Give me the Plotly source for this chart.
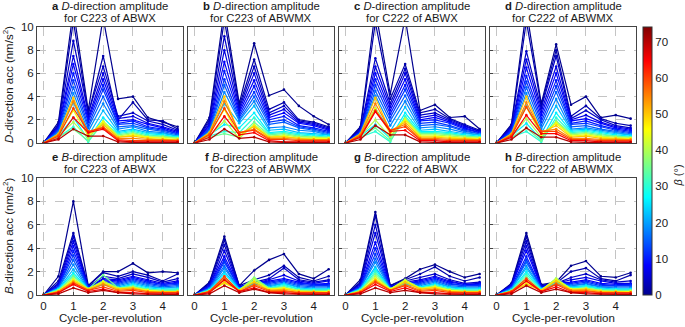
import plotly.graph_objects as go
from plotly.colors import sample_colorscale

# ---------------- data ----------------
X_CPR = [0, 0.5, 1, 1.5, 2, 2.5, 3, 3.5, 4, 4.5]
BETA = [0, 2, 4, 6, 8, 10, 12, 15, 18, 22, 26, 30, 35, 40, 45, 50, 55, 60, 65, 70]
X_TICKS = [0, 1, 2, 3, 4]
Y_TICKS = [0, 2, 4, 6, 8, 10]
CBAR_TICKS = [0, 10, 20, 30, 40, 50, 60, 70]

D_C223_ABWX = [
    [0, 1.8, 11.5, 2.8, 10.8, 3.8, 4.0, 2.2, 1.8, 1.4],
    [0, 1.6, 10.5, 2.5, 7.5, 2.0, 3.5, 2.0, 1.9, 1.2],
    [0, 1.5, 8.8, 2.6, 6.6, 2.3, 2.6, 1.9, 1.6, 1.1],
    [0, 1.4, 7.5, 2.2, 6.0, 2.1, 2.3, 1.7, 1.4, 1.0],
    [0, 1.3, 6.8, 2.0, 5.5, 1.9, 2.0, 1.6, 1.3, 0.9],
    [0, 1.2, 6.0, 1.8, 5.0, 1.7, 1.9, 1.4, 1.2, 0.8],
    [0, 1.1, 5.4, 1.5, 4.6, 1.6, 1.7, 1.3, 1.1, 0.8],
    [0, 1.0, 4.8, 1.3, 4.0, 1.4, 1.5, 1.2, 1.0, 0.7],
    [0, 0.9, 4.3, 1.0, 3.4, 1.2, 1.4, 1.0, 0.9, 0.6],
    [0, 0.8, 3.5, 0.6, 2.8, 1.0, 1.2, 0.9, 0.8, 0.6],
    [0, 0.6, 2.2, 0.3, 2.2, 0.9, 1.1, 0.8, 0.7, 0.5],
    [0, 0.5, 1.4, 0.1, 1.8, 0.8, 1.0, 0.7, 0.6, 0.5],
    [0, 0.5, 1.2, 0.2, 1.7, 0.7, 0.9, 0.6, 0.6, 0.4],
    [0, 0.6, 1.8, 0.4, 1.9, 0.6, 0.8, 0.5, 0.5, 0.4],
    [0, 0.7, 2.8, 0.6, 1.8, 0.5, 0.7, 0.5, 0.4, 0.3],
    [0, 0.8, 3.9, 0.8, 1.6, 0.5, 0.6, 0.4, 0.3, 0.3],
    [0, 0.7, 3.6, 0.9, 1.4, 0.4, 0.4, 0.3, 0.3, 0.2],
    [0, 0.6, 3.0, 1.0, 1.3, 0.3, 0.2, 0.2, 0.2, 0.2],
    [0, 0.4, 2.2, 0.9, 1.2, 0.2, 0.1, 0.1, 0.1, 0.1],
    [0, 0.3, 1.2, 0.6, 0.6, 0.1, 0.05, 0.05, 0.05, 0.05],
]

D_C223_ABWMX = [
    [0, 2.2, 11.5, 3.4, 8.6, 4.1, 4.6, 3.2, 2.3, 1.6],
    [0, 2.0, 10.6, 3.2, 7.2, 2.9, 3.5, 2.0, 1.8, 1.4],
    [0, 1.8, 9.2, 3.0, 6.6, 2.6, 3.2, 1.9, 1.7, 1.3],
    [0, 1.6, 8.0, 2.8, 6.0, 2.4, 2.9, 1.8, 1.6, 1.2],
    [0, 1.5, 7.0, 2.6, 5.4, 2.2, 2.6, 1.7, 1.5, 1.1],
    [0, 1.3, 6.2, 2.4, 4.9, 2.0, 2.3, 1.5, 1.3, 1.0],
    [0, 1.2, 5.5, 2.2, 4.4, 1.8, 2.0, 1.4, 1.2, 0.9],
    [0, 1.1, 5.0, 2.0, 4.0, 1.6, 1.8, 1.3, 1.1, 0.8],
    [0, 1.0, 4.4, 1.9, 3.6, 1.3, 1.4, 1.1, 1.0, 0.7],
    [0, 0.9, 3.4, 1.7, 3.2, 1.1, 1.2, 0.9, 0.8, 0.7],
    [0, 0.7, 1.6, 1.3, 2.6, 0.9, 1.0, 0.8, 0.7, 0.6],
    [0, 0.6, 1.0, 0.9, 2.2, 0.8, 0.9, 0.7, 0.6, 0.5],
    [0, 0.5, 0.8, 0.5, 1.8, 0.7, 0.8, 0.6, 0.5, 0.5],
    [0, 0.6, 1.9, 0.4, 1.6, 0.6, 0.7, 0.5, 0.5, 0.4],
    [0, 0.8, 2.9, 0.6, 1.5, 0.5, 0.6, 0.4, 0.4, 0.4],
    [0, 0.9, 4.0, 0.8, 1.4, 0.5, 0.5, 0.4, 0.3, 0.3],
    [0, 0.8, 3.6, 0.9, 1.2, 0.4, 0.4, 0.3, 0.3, 0.3],
    [0, 0.7, 3.0, 0.9, 1.1, 0.3, 0.3, 0.2, 0.2, 0.2],
    [0, 0.5, 2.3, 0.7, 0.9, 0.2, 0.1, 0.1, 0.1, 0.1],
    [0, 0.3, 1.2, 0.4, 0.5, 0.1, 0.05, 0.05, 0.05, 0.05],
]

D_C222_ABWX = [
    [0, 1.4, 11.5, 4.2, 10.8, 2.8, 3.3, 2.2, 2.3, 1.2],
    [0, 1.3, 10.4, 3.8, 6.8, 2.6, 2.9, 2.1, 1.6, 1.1],
    [0, 1.2, 7.3, 3.4, 6.4, 2.4, 2.6, 2.0, 1.5, 1.0],
    [0, 1.1, 6.6, 3.1, 6.0, 2.2, 2.4, 1.9, 1.4, 1.0],
    [0, 1.0, 6.0, 2.8, 5.5, 2.0, 2.2, 1.8, 1.3, 0.9],
    [0, 1.0, 5.5, 2.5, 5.0, 1.9, 2.0, 1.7, 1.2, 0.9],
    [0, 0.9, 5.0, 2.2, 4.6, 1.7, 1.8, 1.5, 1.1, 0.8],
    [0, 0.9, 4.5, 1.9, 4.1, 1.5, 1.6, 1.4, 1.0, 0.8],
    [0, 0.8, 4.1, 1.5, 3.6, 1.3, 1.4, 1.2, 0.9, 0.7],
    [0, 0.7, 3.0, 1.0, 3.1, 1.1, 1.2, 1.0, 0.8, 0.7],
    [0, 0.6, 1.6, 0.4, 2.6, 1.0, 1.0, 0.9, 0.7, 0.6],
    [0, 0.5, 1.0, 0.1, 2.3, 0.9, 0.9, 0.8, 0.6, 0.5],
    [0, 0.5, 1.3, 0.2, 2.1, 0.8, 0.8, 0.7, 0.6, 0.5],
    [0, 0.6, 2.0, 0.5, 2.1, 0.7, 0.7, 0.6, 0.5, 0.4],
    [0, 0.7, 3.0, 0.8, 2.0, 0.6, 0.6, 0.5, 0.4, 0.4],
    [0, 0.8, 3.9, 1.0, 1.8, 0.5, 0.5, 0.4, 0.4, 0.3],
    [0, 0.7, 3.4, 1.1, 1.6, 0.4, 0.4, 0.3, 0.3, 0.3],
    [0, 0.6, 2.8, 1.1, 1.4, 0.3, 0.3, 0.2, 0.2, 0.2],
    [0, 0.5, 2.7, 1.0, 1.1, 0.2, 0.2, 0.1, 0.1, 0.1],
    [0, 0.3, 1.5, 0.7, 0.7, 0.1, 0.05, 0.05, 0.05, 0.05],
]

D_C222_ABWMX = [
    [0, 1.6, 11.5, 3.4, 8.5, 3.3, 4.0, 2.2, 2.4, 2.1],
    [0, 1.5, 10.5, 3.2, 8.0, 2.3, 3.2, 2.1, 1.7, 1.5],
    [0, 1.4, 7.9, 3.0, 7.5, 2.1, 2.8, 2.0, 1.5, 1.3],
    [0, 1.3, 7.2, 2.7, 6.6, 2.0, 2.4, 1.8, 1.4, 1.2],
    [0, 1.2, 6.5, 2.4, 6.0, 1.9, 2.1, 1.7, 1.3, 1.1],
    [0, 1.1, 5.8, 2.1, 5.4, 1.7, 1.9, 1.5, 1.2, 1.0],
    [0, 1.0, 5.3, 1.8, 4.9, 1.6, 1.7, 1.4, 1.1, 0.9],
    [0, 0.9, 4.8, 1.5, 4.4, 1.4, 1.5, 1.2, 1.0, 0.8],
    [0, 0.8, 4.3, 1.2, 3.8, 1.2, 1.3, 1.1, 0.9, 0.7],
    [0, 0.7, 3.2, 0.8, 3.2, 1.1, 1.2, 1.0, 0.8, 0.7],
    [0, 0.6, 1.7, 0.3, 2.6, 1.0, 1.1, 0.9, 0.7, 0.6],
    [0, 0.5, 1.0, 0.1, 2.2, 0.9, 1.0, 0.8, 0.6, 0.5],
    [0, 0.5, 1.3, 0.2, 1.9, 0.8, 0.9, 0.7, 0.6, 0.5],
    [0, 0.6, 2.1, 0.5, 1.8, 0.7, 0.8, 0.6, 0.5, 0.4],
    [0, 0.7, 3.1, 0.7, 1.7, 0.6, 0.7, 0.5, 0.4, 0.4],
    [0, 0.8, 4.0, 0.9, 1.5, 0.5, 0.6, 0.4, 0.4, 0.3],
    [0, 0.7, 3.5, 1.0, 1.2, 0.4, 0.4, 0.3, 0.3, 0.3],
    [0, 0.6, 3.1, 1.0, 1.0, 0.3, 0.3, 0.2, 0.2, 0.2],
    [0, 0.5, 2.4, 0.8, 0.8, 0.2, 0.2, 0.1, 0.1, 0.1],
    [0, 0.3, 1.3, 0.5, 0.5, 0.1, 0.05, 0.05, 0.05, 0.05],
]

B_C223_ABWX = [
    [0, 1.6, 8.0, 0.8, 2.0, 2.0, 2.7, 1.9, 2.0, 1.9],
    [0, 1.2, 5.3, 0.8, 1.9, 1.6, 2.0, 1.7, 1.2, 1.8],
    [0, 1.0, 5.0, 0.7, 1.6, 1.4, 1.8, 1.5, 1.1, 1.4],
    [0, 0.9, 4.6, 0.7, 1.4, 1.3, 1.6, 1.3, 1.0, 1.2],
    [0, 0.8, 4.2, 0.7, 1.3, 1.2, 1.5, 1.2, 0.9, 1.1],
    [0, 0.7, 3.8, 0.6, 1.2, 1.1, 1.4, 1.1, 0.9, 1.0],
    [0, 0.7, 3.4, 0.6, 1.1, 1.0, 1.3, 1.0, 0.8, 0.9],
    [0, 0.6, 3.0, 0.6, 1.0, 0.9, 1.2, 0.9, 0.7, 0.8],
    [0, 0.6, 2.6, 0.5, 0.9, 0.8, 1.1, 0.8, 0.6, 0.7],
    [0, 0.5, 2.2, 0.5, 0.9, 0.7, 1.0, 0.7, 0.6, 0.6],
    [0, 0.5, 1.9, 0.5, 1.0, 0.6, 0.9, 0.6, 0.5, 0.5],
    [0, 0.4, 1.7, 0.5, 1.1, 0.6, 0.8, 0.5, 0.4, 0.5],
    [0, 0.4, 1.6, 0.5, 1.7, 0.6, 0.7, 0.5, 0.4, 0.4],
    [0, 0.4, 1.4, 0.5, 1.2, 0.6, 0.7, 0.4, 0.3, 0.3],
    [0, 0.3, 1.3, 0.5, 1.1, 0.5, 0.6, 0.4, 0.3, 0.3],
    [0, 0.3, 1.2, 0.5, 1.0, 0.5, 0.6, 0.3, 0.3, 0.3],
    [0, 0.3, 1.1, 0.4, 0.9, 0.4, 0.5, 0.3, 0.2, 0.2],
    [0, 0.2, 1.0, 0.4, 0.7, 0.3, 0.4, 0.2, 0.2, 0.2],
    [0, 0.2, 0.9, 0.3, 0.5, 0.2, 0.2, 0.1, 0.1, 0.1],
    [0, 0.1, 0.6, 0.2, 0.4, 0.2, 0.1, 0.05, 0.05, 0.05],
]

B_C223_ABWMX = [
    [0, 1.1, 5.0, 0.8, 2.1, 3.0, 3.5, 1.8, 1.4, 2.2],
    [0, 1.0, 4.7, 0.8, 1.3, 1.7, 2.5, 1.5, 1.2, 1.6],
    [0, 0.9, 4.3, 0.7, 1.1, 1.4, 2.3, 1.3, 1.1, 1.3],
    [0, 0.8, 3.8, 0.7, 1.0, 1.3, 1.7, 1.2, 1.0, 1.2],
    [0, 0.8, 3.3, 0.7, 1.0, 1.2, 1.4, 1.1, 0.9, 1.0],
    [0, 0.7, 3.0, 0.6, 1.0, 1.1, 1.3, 1.0, 0.9, 0.9],
    [0, 0.6, 2.8, 0.6, 0.9, 1.0, 1.2, 0.9, 0.8, 0.8],
    [0, 0.6, 2.5, 0.5, 0.9, 0.9, 1.1, 0.8, 0.7, 0.7],
    [0, 0.5, 2.3, 0.5, 0.9, 0.8, 1.0, 0.7, 0.6, 0.6],
    [0, 0.5, 2.0, 0.5, 1.0, 0.7, 1.0, 0.6, 0.5, 0.5],
    [0, 0.4, 1.8, 0.5, 1.2, 0.6, 0.9, 0.5, 0.5, 0.5],
    [0, 0.4, 1.5, 0.4, 1.4, 0.6, 0.8, 0.5, 0.4, 0.4],
    [0, 0.4, 1.3, 0.4, 1.5, 0.6, 0.7, 0.4, 0.4, 0.4],
    [0, 0.3, 1.1, 0.4, 1.4, 0.5, 0.6, 0.4, 0.3, 0.3],
    [0, 0.3, 1.0, 0.4, 1.2, 0.5, 0.6, 0.3, 0.3, 0.3],
    [0, 0.3, 1.1, 0.4, 1.1, 0.4, 0.5, 0.3, 0.3, 0.2],
    [0, 0.3, 1.4, 0.3, 0.9, 0.4, 0.4, 0.2, 0.2, 0.2],
    [0, 0.3, 1.6, 0.3, 0.8, 0.3, 0.3, 0.2, 0.2, 0.2],
    [0, 0.2, 1.3, 0.3, 0.6, 0.2, 0.2, 0.1, 0.1, 0.1],
    [0, 0.1, 0.8, 0.2, 0.5, 0.2, 0.1, 0.05, 0.05, 0.05],
]

B_C222_ABWX = [
    [0, 1.3, 7.1, 0.8, 1.4, 2.2, 2.6, 2.0, 1.5, 1.8],
    [0, 1.1, 6.8, 0.8, 1.3, 1.8, 2.4, 1.6, 1.2, 1.5],
    [0, 1.0, 6.0, 0.7, 1.2, 1.5, 1.8, 1.3, 1.0, 1.1],
    [0, 0.9, 5.3, 0.7, 1.1, 1.3, 1.6, 1.2, 0.9, 1.0],
    [0, 0.8, 4.5, 0.7, 1.0, 1.2, 1.5, 1.1, 0.9, 0.9],
    [0, 0.7, 4.0, 0.6, 1.0, 1.1, 1.4, 1.0, 0.8, 0.9],
    [0, 0.7, 3.5, 0.6, 0.9, 1.0, 1.3, 0.9, 0.8, 0.8],
    [0, 0.6, 3.1, 0.6, 0.9, 0.9, 1.2, 0.8, 0.7, 0.7],
    [0, 0.6, 2.8, 0.5, 0.9, 0.8, 1.1, 0.7, 0.6, 0.6],
    [0, 0.5, 2.4, 0.5, 0.9, 0.7, 1.0, 0.7, 0.6, 0.6],
    [0, 0.5, 2.2, 0.5, 1.0, 0.7, 0.9, 0.6, 0.5, 0.5],
    [0, 0.4, 2.0, 0.5, 1.1, 0.6, 0.8, 0.5, 0.4, 0.4],
    [0, 0.4, 1.8, 0.5, 1.2, 0.6, 0.8, 0.5, 0.4, 0.4],
    [0, 0.4, 1.6, 0.5, 1.3, 0.6, 0.7, 0.4, 0.3, 0.3],
    [0, 0.3, 1.4, 0.5, 1.2, 0.5, 0.7, 0.4, 0.3, 0.3],
    [0, 0.3, 1.3, 0.4, 1.1, 0.5, 0.6, 0.3, 0.3, 0.3],
    [0, 0.3, 1.2, 0.4, 0.9, 0.4, 0.5, 0.3, 0.2, 0.2],
    [0, 0.2, 1.1, 0.4, 0.8, 0.3, 0.4, 0.2, 0.2, 0.2],
    [0, 0.2, 0.9, 0.3, 0.6, 0.2, 0.2, 0.1, 0.1, 0.1],
    [0, 0.1, 0.6, 0.2, 0.4, 0.2, 0.1, 0.05, 0.05, 0.05],
]

B_C222_ABWMX = [
    [0, 1.0, 5.3, 0.9, 1.1, 2.5, 2.9, 1.6, 1.5, 1.9],
    [0, 0.9, 5.0, 0.8, 1.0, 2.0, 2.3, 1.4, 1.2, 1.7],
    [0, 0.9, 4.6, 0.8, 1.0, 1.5, 1.8, 1.3, 1.1, 1.2],
    [0, 0.8, 4.2, 0.7, 1.0, 1.3, 1.5, 1.2, 1.0, 1.0],
    [0, 0.8, 3.8, 0.7, 1.0, 1.1, 1.3, 1.0, 0.9, 0.9],
    [0, 0.7, 3.3, 0.6, 0.9, 1.0, 1.2, 0.9, 0.8, 0.9],
    [0, 0.6, 3.0, 0.6, 0.9, 0.9, 1.1, 0.8, 0.8, 0.8],
    [0, 0.6, 2.8, 0.6, 0.9, 0.8, 1.0, 0.7, 0.7, 0.7],
    [0, 0.5, 2.5, 0.5, 0.9, 0.8, 0.9, 0.7, 0.6, 0.6],
    [0, 0.5, 2.3, 0.5, 1.0, 0.7, 0.8, 0.6, 0.5, 0.5],
    [0, 0.4, 2.0, 0.5, 1.1, 0.6, 0.8, 0.5, 0.5, 0.5],
    [0, 0.4, 1.8, 0.4, 1.3, 0.6, 0.7, 0.5, 0.4, 0.4],
    [0, 0.4, 1.6, 0.4, 1.4, 0.5, 0.6, 0.4, 0.4, 0.4],
    [0, 0.3, 1.3, 0.4, 1.4, 0.5, 0.6, 0.4, 0.3, 0.3],
    [0, 0.3, 1.0, 0.4, 1.3, 0.5, 0.5, 0.3, 0.3, 0.3],
    [0, 0.3, 0.9, 0.4, 1.2, 0.4, 0.5, 0.3, 0.3, 0.2],
    [0, 0.3, 1.2, 0.3, 1.0, 0.4, 0.4, 0.2, 0.2, 0.2],
    [0, 0.3, 1.4, 0.3, 0.9, 0.3, 0.3, 0.2, 0.2, 0.2],
    [0, 0.2, 1.2, 0.3, 0.7, 0.2, 0.2, 0.1, 0.1, 0.1],
    [0, 0.1, 0.8, 0.2, 0.5, 0.2, 0.1, 0.05, 0.05, 0.05],
]

PANEL_DATA = [D_C223_ABWX, D_C223_ABWMX, D_C222_ABWX, D_C222_ABWMX,
              B_C223_ABWX, B_C223_ABWMX, B_C222_ABWX, B_C222_ABWMX]
PANEL_LETTERS = ["a", "b", "c", "d", "e", "f", "g", "h"]
PANEL_DIRS = ["D", "D", "D", "D", "B", "B", "B", "B"]
PANEL_CASES = ["C223", "C223", "C222", "C222", "C223", "C223", "C222", "C222"]
PANEL_MODELS = ["ABWX", "ABWMX", "ABWX", "ABWMX", "ABWX", "ABWMX", "ABWX", "ABWMX"]

# ---------------- style ----------------
W, H = 685, 327
FONT = "Liberation Sans, Arial, sans-serif"
TXT = "#1a1a1a"
CMAX = 74
JET = [[0.0, "rgb(0,0,143)"], [0.111, "rgb(0,0,255)"], [0.365, "rgb(0,255,255)"],
       [0.619, "rgb(255,255,0)"], [0.873, "rgb(255,0,0)"], [1.0, "rgb(128,0,0)"]]
COLORS = sample_colorscale(JET, [b / CMAX for b in BETA])

LEFTS = [37, 188, 339, 490]
PW = 146
ROWS_PX = [(27, 143), (178, 295)]


def fx(p):
    return p / W


def fy(p):
    return 1 - p / H


fig = go.Figure()
annotations = []

for i, rows in enumerate(PANEL_DATA):
    r, c = divmod(i, 4)
    sfx = "" if i == 0 else str(i + 1)
    for ys, col in zip(rows, COLORS):
        fig.add_trace(go.Scatter(
            x=X_CPR, y=ys, mode="lines+markers",
            line=dict(color=col, width=1.2),
            marker=dict(color=col, size=2.6),
            xaxis="x" + sfx, yaxis="y" + sfx,
            showlegend=False, hoverinfo="skip"))
    top, bot = ROWS_PX[r]
    common = dict(showline=True, mirror=True, linecolor="#444", linewidth=1,
                  showgrid=True, gridcolor="#c4c4c4", griddash="dash", gridwidth=1,
                  zeroline=False, ticks="inside", ticklen=3, tickcolor="#444",
                  tickfont=dict(family=FONT, size=11.5, color=TXT))
    fig.layout["xaxis" + sfx] = dict(
        domain=[fx(LEFTS[c]), fx(LEFTS[c] + PW)], range=[-0.22, 4.68],
        anchor="y" + sfx, tickvals=X_TICKS, showticklabels=(r == 1), **common)
    fig.layout["yaxis" + sfx] = dict(
        domain=[fy(bot), fy(top)], range=[0, 10],
        anchor="x" + sfx, tickvals=Y_TICKS, showticklabels=(c == 0), **common)

    cx = fx(LEFTS[c] + PW / 2)
    y1 = top - 21
    y2 = top - 9
    annotations.append(dict(
        text="<b>%s</b> <i>%s</i>-direction amplitude" % (PANEL_LETTERS[i], PANEL_DIRS[i]),
        x=cx, y=fy(y1), xref="paper", yref="paper", showarrow=False,
        xanchor="center", yanchor="middle",
        font=dict(family=FONT, size=11.3, color=TXT)))
    annotations.append(dict(
        text="for %s of %s" % (PANEL_CASES[i], PANEL_MODELS[i]),
        x=cx, y=fy(y2), xref="paper", yref="paper", showarrow=False,
        xanchor="center", yanchor="middle",
        font=dict(family=FONT, size=11.3, color=TXT)))
    if r == 1:
        annotations.append(dict(
            text="Cycle-per-revolution", x=cx, y=fy(318), xref="paper", yref="paper",
            showarrow=False, xanchor="center", yanchor="middle",
            font=dict(family=FONT, size=11.5, color=TXT)))

annotations.append(dict(
    text="<i>D</i>-direction acc (nm/s<sup>2</sup>)", x=fx(8), y=fy(85),
    xref="paper", yref="paper", showarrow=False, textangle=-90,
    xanchor="center", yanchor="middle", font=dict(family=FONT, size=11.5, color=TXT)))
annotations.append(dict(
    text="<i>B</i>-direction acc (nm/s<sup>2</sup>)", x=fx(8), y=fy(236),
    xref="paper", yref="paper", showarrow=False, textangle=-90,
    xanchor="center", yanchor="middle", font=dict(family=FONT, size=11.5, color=TXT)))
annotations.append(dict(
    text="<i>β</i> (°)", x=fx(677.5), y=fy(176),
    xref="paper", yref="paper", showarrow=False, textangle=-90,
    xanchor="center", yanchor="middle", font=dict(family=FONT, size=11, color=TXT)))

# colour bar via an invisible helper trace
fig.add_trace(go.Scatter(
    x=[-5], y=[-5], mode="markers", xaxis="x", yaxis="y", showlegend=False,
    hoverinfo="skip",
    marker=dict(color=[0], colorscale=JET, cmin=0, cmax=CMAX, size=0.1, showscale=True,
                colorbar=dict(x=fx(643), xanchor="left", xpad=0, ypad=0,
                              y=fy(295), yanchor="bottom", len=(295 - 27) / H,
                              lenmode="fraction", thickness=9, thicknessmode="pixels",
                              outlinewidth=1, outlinecolor="#333",
                              tickvals=CBAR_TICKS, ticks="",
                              tickfont=dict(family=FONT, size=11.5, color=TXT)))))

fig.update_layout(
    width=W, height=H, margin=dict(l=0, r=0, t=0, b=0, autoexpand=False),
    paper_bgcolor="white", plot_bgcolor="white",
    annotations=annotations, showlegend=False)

fig.write_html("out.html",
               config={"displayModeBar": False, "staticPlot": True},
               post_script="document.body.style.margin='0';document.body.style.overflow='hidden';")
